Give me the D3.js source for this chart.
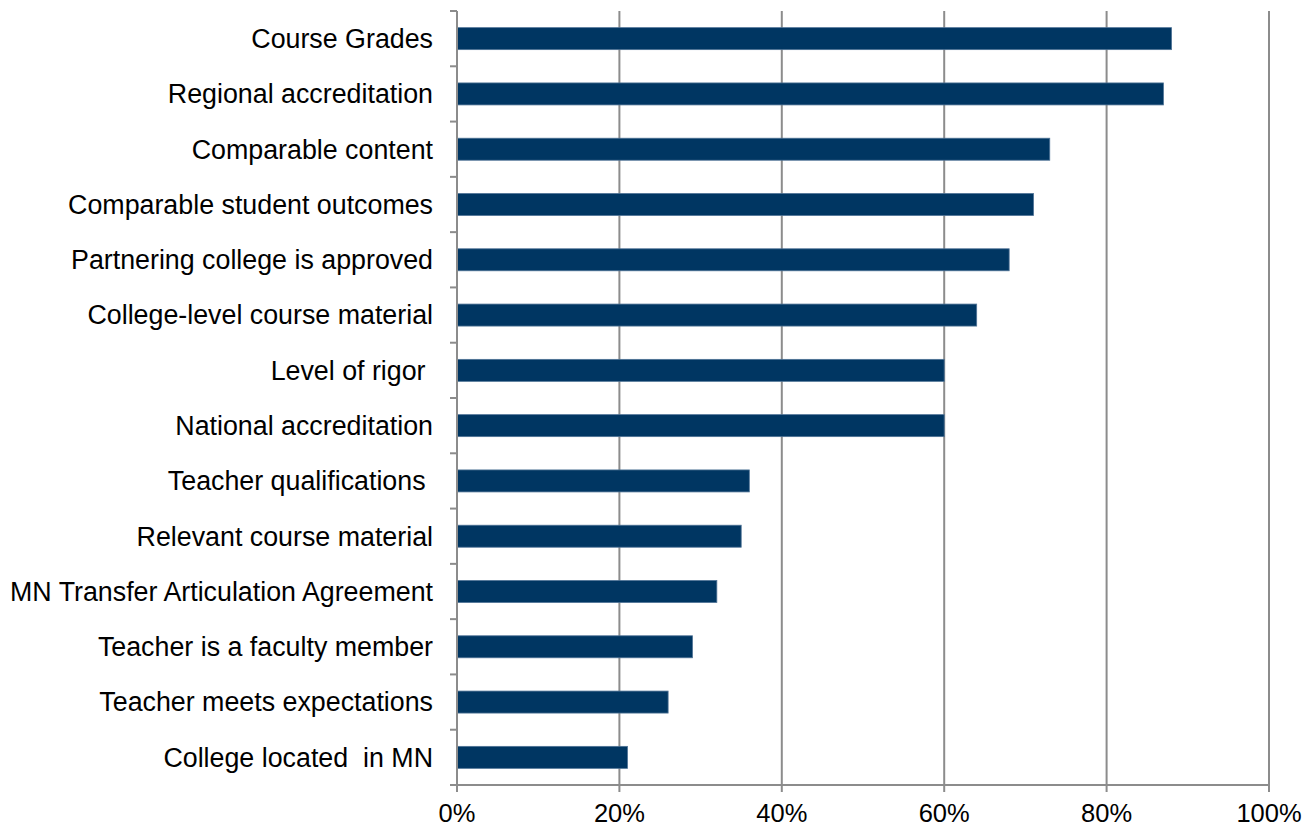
<!DOCTYPE html>
<html>
<head>
<meta charset="utf-8">
<script src="https://cdn.jsdelivr.net/npm/d3@7"></script>
<style>
  body { margin: 0; background: #fff; }
  svg text { font-family: "Liberation Sans", Arial, sans-serif; fill: #000; }
</style>
</head>
<body>
<svg id="chart"></svg>
<script>
// Categories, top to bottom
const categories = [
  'Course Grades',
  'Regional accreditation',
  'Comparable content',
  'Comparable student outcomes',
  'Partnering college is approved',
  'College-level course material',
  'Level of rigor ',
  'National accreditation',
  'Teacher qualifications ',
  'Relevant course material',
  'MN Transfer Articulation Agreement',
  'Teacher is a faculty member',
  'Teacher meets expectations',
  'College located  in MN'
];
const values = [88, 87, 73, 71, 68, 64, 60, 60, 36, 35, 32, 29, 26, 21];
const xTicks = [0, 20, 40, 60, 80, 100];

const W = 1313, H = 828;
const margin = { top: 11, right: 44, bottom: 43, left: 457 };
const innerW = W - margin.left - margin.right;
const innerH = H - margin.top - margin.bottom;

const svg = d3.select('#chart').attr('width', W).attr('height', H);
const g = svg.append('g').attr('transform', `translate(${margin.left},${margin.top})`);

const x = d3.scaleLinear().domain([0, 100]).range([0, innerW]);
const band = d3.scaleBand().domain(categories).range([0, innerH]);

// Vertical gridlines
g.selectAll('.grid').data(xTicks.slice(1)).join('line')
  .attr('x1', d => x(d)).attr('x2', d => x(d))
  .attr('y1', 0).attr('y2', innerH)
  .attr('stroke', '#8c8c8c').attr('stroke-width', 2);

// Bars
g.selectAll('.bar').data(values).join('rect')
  .attr('x', 0)
  .attr('y', (d, i) => band(categories[i]) + band.bandwidth() / 2 - 11)
  .attr('width', d => x(d))
  .attr('height', 22)
  .attr('fill', '#003662')
  .attr('stroke', '#4f7396').attr('stroke-width', 0.8);

// Y axis line and ticks at band boundaries
g.append('line').attr('x1', 0).attr('x2', 0).attr('y1', 0).attr('y2', innerH + 7)
  .attr('stroke', '#8c8c8c').attr('stroke-width', 2);
const bounds = categories.map(c => band(c)).concat([innerH]);
g.selectAll('.ytick').data(bounds).join('line')
  .attr('x1', -7).attr('x2', 0)
  .attr('y1', d => d).attr('y2', d => d)
  .attr('stroke', '#8c8c8c').attr('stroke-width', 2);

// Category labels
g.selectAll('.ylab').data(categories).join('text')
  .attr('x', -24)
  .attr('y', d => band(d) + band.bandwidth() / 2)
  .attr('dy', '0.35em')
  .attr('text-anchor', 'end')
  .attr('font-size', '26.8px')
  .style('white-space', 'pre')
  .text(d => d);

// X axis line, ticks, labels
g.append('line').attr('x1', -7).attr('x2', innerW).attr('y1', innerH).attr('y2', innerH)
  .attr('stroke', '#8c8c8c').attr('stroke-width', 2);
g.selectAll('.xtick').data(xTicks).join('line')
  .attr('x1', d => x(d)).attr('x2', d => x(d))
  .attr('y1', innerH).attr('y2', innerH + 7)
  .attr('stroke', '#8c8c8c').attr('stroke-width', 2);
g.selectAll('.xlab').data(xTicks).join('text')
  .attr('x', d => x(d))
  .attr('y', innerH + 37)
  .attr('text-anchor', 'middle')
  .attr('font-size', '25.5px')
  .text(d => d + '%');
</script>
</body>
</html>
